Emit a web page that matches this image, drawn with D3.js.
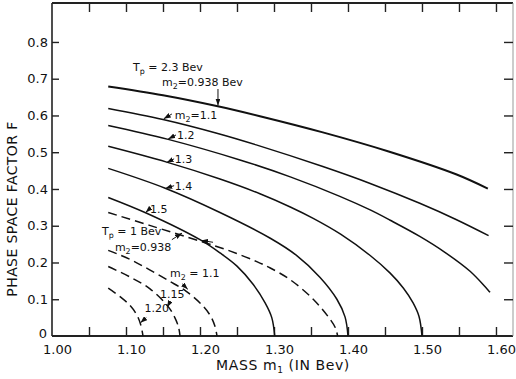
<!DOCTYPE html>
<html>
<head>
<meta charset="utf-8">
<script src="https://cdn.jsdelivr.net/npm/d3@7"></script>
<style>
  body { margin: 0; background: #fff; }
  text { font-family: "DejaVu Sans", sans-serif; fill: #111; }
</style>
</head>
<body>
<script>
// points: [mass m1 (Bev), phase space factor F]
// Tp = 2.3 Bev (solid lines)
const tp23_m2_0938 = [[1.076, 0.679], [1.15, 0.655], [1.224, 0.625], [1.281, 0.598], [1.366, 0.554], [1.455, 0.502], [1.546, 0.440], [1.589, 0.401]];
const tp23_m2_11 = [[1.076, 0.619], [1.15, 0.589], [1.224, 0.551], [1.276, 0.520], [1.366, 0.461], [1.43, 0.415], [1.497, 0.361], [1.546, 0.317], [1.59, 0.273]];
const tp23_m2_12 = [[1.076, 0.573], [1.157, 0.535], [1.254, 0.479], [1.322, 0.433], [1.389, 0.380], [1.43, 0.343], [1.457, 0.315], [1.497, 0.271], [1.53, 0.229], [1.565, 0.176], [1.592, 0.119]];
const tp23_m2_13 = [[1.076, 0.516], [1.155, 0.473], [1.227, 0.427], [1.281, 0.387], [1.322, 0.351], [1.353, 0.320], [1.39, 0.277], [1.43, 0.219], [1.457, 0.171], [1.475, 0.13], [1.488, 0.09], [1.496, 0.053], [1.50, 0]];
const tp23_m2_14 = [[1.076, 0.456], [1.153, 0.402], [1.227, 0.336], [1.295, 0.266], [1.33, 0.22], [1.362, 0.16], [1.385, 0.10], [1.396, 0.052], [1.40, 0]];
const tp23_m2_15 = [[1.076, 0.377], [1.128, 0.334], [1.2, 0.262], [1.227, 0.226], [1.25, 0.19], [1.272, 0.14], [1.288, 0.09], [1.297, 0.05], [1.301, 0]];
// Tp = 1 Bev (dashed lines)
const tp1_m2_0938 = [[1.076, 0.336], [1.132, 0.301], [1.2, 0.258], [1.241, 0.231], [1.276, 0.203], [1.295, 0.185], [1.322, 0.153], [1.353, 0.100], [1.376, 0.045], [1.383, 0.022], [1.386, 0]];
const tp1_m2_11 = [[1.076, 0.233], [1.105, 0.209], [1.132, 0.180], [1.159, 0.149], [1.181, 0.122], [1.2, 0.090], [1.2135, 0.057], [1.220, 0.028], [1.223, 0]];
const tp1_m2_115 = [[1.076, 0.189], [1.105, 0.161], [1.132, 0.129], [1.157, 0.080], [1.166, 0.050], [1.171, 0.024], [1.173, 0]];
const tp1_m2_120 = [[1.076, 0.13], [1.092, 0.107], [1.105, 0.084], [1.115, 0.056], [1.120, 0.030], [1.123, 0]];

const xMinorTicks = d3.range(1.05, 1.601, 0.05);
const xLabelTicks = [1.0, 1.1, 1.2, 1.3, 1.4, 1.5, 1.6];
const yTicks = [0.1, 0.2, 0.3, 0.4, 0.5, 0.6, 0.7, 0.8];
const yLabelTicks = [0, 0.1, 0.2, 0.3, 0.4, 0.5, 0.6, 0.7, 0.8];

const width = 516, height = 379;
const mLeft = 52, mRight = 513, mTop = 3, mBottom = 336;

const x = d3.scaleLinear([1.0, 1.623], [mLeft, mRight]);
const y = d3.scaleLinear([0, 0.906], [mBottom, mTop]);

const svg = d3.select("body").append("svg")
  .attr("width", width)
  .attr("height", height);

svg.append("defs").append("marker")
  .attr("id", "arrow")
  .attr("viewBox", "0 -2.5 7 5")
  .attr("markerUnits", "userSpaceOnUse")
  .attr("markerWidth", 7)
  .attr("markerHeight", 5)
  .attr("refX", 7)
  .attr("orient", "auto")
  .append("path")
  .attr("d", "M0,-2.5L7,0L0,2.5Z")
  .attr("fill", "#111");

// frame
svg.append("line").attr("x1", mLeft).attr("x2", mRight).attr("y1", mTop).attr("y2", mTop)
  .attr("stroke", "#222").attr("stroke-width", 2);
svg.append("line").attr("x1", mLeft).attr("x2", mRight).attr("y1", mBottom).attr("y2", mBottom)
  .attr("stroke", "#222").attr("stroke-width", 2);
svg.append("line").attr("x1", mLeft).attr("x2", mLeft).attr("y1", mTop).attr("y2", mBottom)
  .attr("stroke", "#222").attr("stroke-width", 1.6);
svg.append("line").attr("x1", mRight).attr("x2", mRight).attr("y1", mTop).attr("y2", mBottom)
  .attr("stroke", "#999").attr("stroke-width", 1);

// inward ticks
const noDomain = g => g.select(".domain").remove();
svg.append("g").attr("transform", `translate(0,${mBottom})`)
  .call(d3.axisBottom(x).tickValues(xMinorTicks).tickSize(-9).tickFormat(""))
  .call(noDomain);
svg.append("g").attr("transform", `translate(0,${mTop})`)
  .call(d3.axisTop(x).tickValues(xMinorTicks).tickSize(-9).tickFormat(""))
  .call(noDomain);
svg.append("g").attr("transform", `translate(${mLeft},0)`)
  .call(d3.axisLeft(y).tickValues(yTicks).tickSize(-7).tickFormat(""))
  .call(noDomain);
svg.append("g").attr("transform", `translate(${mRight},0)`)
  .call(d3.axisRight(y).tickValues(yTicks).tickSize(-9).tickFormat(""))
  .call(noDomain);
svg.selectAll(".tick line").attr("stroke", "#222").attr("stroke-width", 1.4);

// tick labels
svg.append("g").attr("transform", `translate(5,${mBottom + 1})`)
  .call(d3.axisBottom(x).tickValues(xLabelTicks).tickSize(0).tickPadding(8).tickFormat(d3.format(".2f")))
  .call(noDomain)
  .selectAll("text").attr("font-size", 13).attr("font-family", "DejaVu Sans").attr("fill", "#111");
svg.append("g").attr("transform", `translate(${mLeft - 4},0)`)
  .call(d3.axisLeft(y).tickValues(yLabelTicks).tickSize(0).tickPadding(0)
    .tickFormat(d => d === 0 ? "0" : d3.format(".1f")(d)))
  .call(noDomain)
  .selectAll("text").attr("font-size", 13).attr("font-family", "DejaVu Sans").attr("fill", "#111")
  .filter(d => d === 0).attr("dy", "0.15em").attr("dx", -1);

// axis titles
const xt = svg.append("text").attr("x", 283).attr("y", 370).attr("text-anchor", "middle")
  .attr("font-size", 14).attr("letter-spacing", 0.6);
xt.append("tspan").text("MASS m");
xt.append("tspan").attr("font-size", 9).attr("dy", 3).text("1");
xt.append("tspan").attr("dy", -3).text(" (IN Bev)");

svg.append("text")
  .attr("transform", "translate(17,209) rotate(-90)")
  .attr("text-anchor", "middle")
  .attr("font-size", 14)
  .attr("letter-spacing", 0.4)
  .text("PHASE SPACE FACTOR F");

// curves
const line = d3.line().x(d => x(d[0])).y(d => y(d[1])).curve(d3.curveCatmullRom.alpha(0.5));

const solid = [tp23_m2_0938, tp23_m2_11, tp23_m2_12, tp23_m2_13, tp23_m2_14, tp23_m2_15];
const dashed = [tp1_m2_0938, tp1_m2_11, tp1_m2_115, tp1_m2_120];

svg.append("g").selectAll("path").data(solid).join("path")
  .attr("d", line)
  .attr("fill", "none")
  .attr("stroke", "#111")
  .attr("stroke-width", (d, i) => i === 0 ? 2 : 1.5);

svg.append("g").selectAll("path").data(dashed).join("path")
  .attr("d", line)
  .attr("fill", "none")
  .attr("stroke", "#111")
  .attr("stroke-width", 1.5)
  .attr("stroke-dasharray", "9,5");

// annotations, placed in data units; an array part is a subscript
function label(m, f, parts, size = 11) {
  const t = svg.append("text").attr("x", x(m)).attr("y", y(f)).attr("font-size", size);
  let shift = 0;
  parts.forEach(p => {
    if (Array.isArray(p)) {
      t.append("tspan").attr("font-size", size * 0.72).attr("dy", 3 - shift).text(p[0]);
      shift = 3;
    } else {
      t.append("tspan").attr("dy", -shift).text(p);
      shift = 0;
    }
  });
}
function arrow(m0, f0, m1, f1) {
  svg.append("line")
    .attr("x1", x(m0)).attr("y1", y(f0))
    .attr("x2", x(m1)).attr("y2", y(f1))
    .attr("stroke", "#111").attr("stroke-width", 1)
    .attr("marker-end", "url(#arrow)");
}

label(1.1095, 0.720, ["T", ["p"], " = 2.3 Bev"]);
label(1.1486, 0.680, ["m", ["2"], "=0.938 Bev"]);
arrow(1.2243, 0.672, 1.2243, 0.627);

label(1.166, 0.590, ["m", ["2"], "=1.1"]);
arrow(1.162, 0.604, 1.151, 0.591);
label(1.169, 0.536, ["1.2"]);
arrow(1.1676, 0.547, 1.157, 0.536);
label(1.166, 0.471, ["1.3"]);
arrow(1.165, 0.482, 1.155, 0.472);
label(1.166, 0.397, ["1.4"]);
arrow(1.165, 0.409, 1.153, 0.401);
label(1.1324, 0.335, ["1.5"]);
arrow(1.1324, 0.347, 1.1265, 0.336);

label(1.0676, 0.274, ["T", ["p"], " = 1 Bev"]);
label(1.085, 0.230, ["m", ["2"], "=0.938"]);
arrow(1.162, 0.262, 1.1757, 0.28);
arrow(1.2176, 0.255, 1.2014, 0.260);

label(1.1595, 0.160, ["m", ["2"], " = 1.1"]);
arrow(1.176, 0.142, 1.1835, 0.127);
label(1.146, 0.104, ["1.15"]);
arrow(1.1595, 0.093, 1.1557, 0.078);
label(1.125, 0.064, ["1.20"]);
arrow(1.1274, 0.050, 1.1195, 0.036);
</script>
</body>
</html>
